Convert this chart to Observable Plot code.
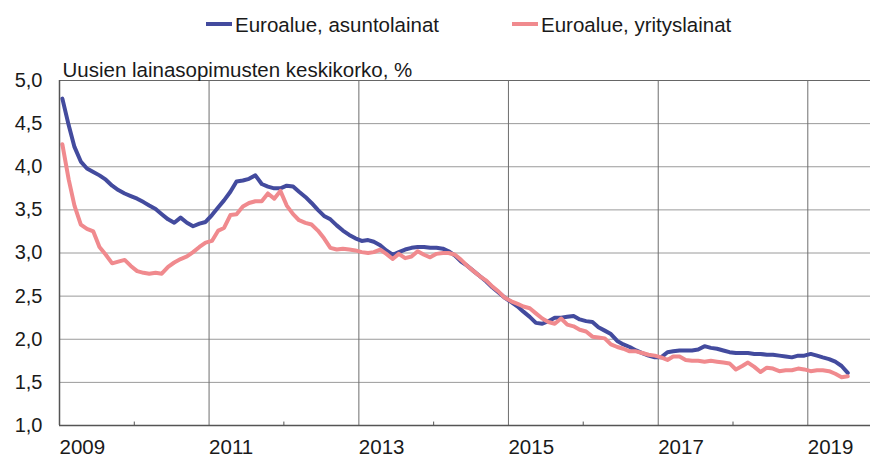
<!DOCTYPE html>
<html>
<head>
<meta charset="utf-8">
<script src="https://cdn.jsdelivr.net/npm/d3@7"></script>
<script src="https://cdn.jsdelivr.net/npm/@observablehq/plot@0.6"></script>
<style>
  body { margin: 0; background: #fff; font-family: "Liberation Sans", Arial, sans-serif; }
  #wrap { position: relative; width: 870px; height: 459px; }
  #legend { position: relative; height: 50px; }
  .item { position: absolute; top: 15px; font-size: 20.5px; line-height: 20px; color: #1a1a1a; white-space: nowrap; }
  .swatch { position: absolute; top: 22px; height: 4px; width: 26px; }
  #chart { position: absolute; top: 50px; left: 0; }
</style>
</head>
<body>
<div id="wrap">
  <div id="legend"></div>
  <div id="chart"></div>
</div>
<script>
// Series: monthly, Jan 2009 – Jul 2019 (%)
const startYear = 2009;
const seriesNames = ["Euroalue, asuntolainat", "Euroalue, yrityslainat"];
const seriesColors = ["#434b9e", "#f08a8e"];
const asuntolainat = [
  4.79,4.48,4.23,4.06,3.98,3.94,3.90,3.85,3.78,3.73,3.69,3.66,
  3.63,3.59,3.55,3.51,3.45,3.39,3.35,3.41,3.35,3.31,3.34,3.36,
  3.44,3.53,3.61,3.71,3.83,3.84,3.86,3.90,3.80,3.77,3.75,3.75,
  3.78,3.77,3.71,3.65,3.58,3.50,3.43,3.39,3.32,3.26,3.21,3.17,
  3.14,3.15,3.13,3.09,3.03,2.98,3.01,3.04,3.06,3.07,3.07,3.06,
  3.06,3.05,3.02,2.97,2.90,2.85,2.79,2.73,2.67,2.60,2.54,2.48,
  2.43,2.38,2.32,2.26,2.19,2.18,2.21,2.25,2.25,2.26,2.27,2.23,
  2.21,2.20,2.14,2.10,2.06,1.98,1.94,1.91,1.87,1.84,1.81,1.79,
  1.79,1.85,1.86,1.87,1.87,1.87,1.88,1.92,1.90,1.89,1.87,1.85,
  1.84,1.84,1.84,1.83,1.83,1.82,1.82,1.81,1.80,1.79,1.81,1.81,
  1.83,1.81,1.79,1.77,1.74,1.69,1.61
];
const yrityslainat = [
  4.26,3.85,3.55,3.33,3.28,3.25,3.07,2.98,2.88,2.90,2.92,2.85,
  2.79,2.77,2.76,2.77,2.76,2.84,2.89,2.93,2.96,3.01,3.07,3.12,
  3.14,3.26,3.29,3.44,3.45,3.54,3.58,3.60,3.60,3.69,3.63,3.72,
  3.55,3.45,3.38,3.35,3.33,3.26,3.17,3.06,3.04,3.05,3.04,3.03,
  3.01,3.00,3.01,3.04,2.99,2.93,2.99,2.94,2.96,3.02,2.98,2.95,
  2.99,3.00,3.00,2.98,2.92,2.85,2.79,2.73,2.68,2.61,2.55,2.48,
  2.44,2.41,2.38,2.36,2.30,2.24,2.20,2.18,2.24,2.17,2.15,2.11,
  2.09,2.03,2.02,2.01,1.94,1.91,1.89,1.86,1.86,1.84,1.82,1.81,
  1.79,1.76,1.80,1.80,1.76,1.75,1.75,1.74,1.75,1.74,1.73,1.72,
  1.65,1.69,1.73,1.68,1.62,1.67,1.66,1.63,1.64,1.64,1.66,1.65,
  1.63,1.64,1.64,1.63,1.60,1.56,1.57
];
const yTicks = [1.0, 1.5, 2.0, 2.5, 3.0, 3.5, 4.0, 4.5, 5.0];
const yearLabels = [2009, 2011, 2013, 2015, 2017, 2019];
const minorYears = [2010, 2012, 2014, 2016, 2018];
const yTitle = "Uusien lainasopimusten keskikorko, %";

const monthDate = k => new Date(Date.UTC(startYear, k, 15));
const toRows = (vals, name) => vals.map((v, k) => ({date: monthDate(k), value: v, series: name}));
const rowsA = toRows(asuntolainat, seriesNames[0]);
const rowsY = toRows(yrityslainat, seriesNames[1]);
const yearDate = y => new Date(Date.UTC(y, 0, 1));

// legend
const legend = document.getElementById("legend");
const legendPos = [{line: 206, text: 235}, {line: 512, text: 541}];
seriesNames.forEach((name, i) => {
  const sw = document.createElement("div");
  sw.className = "swatch";
  sw.style.left = legendPos[i].line + "px";
  sw.style.background = seriesColors[i];
  legend.appendChild(sw);
  const t = document.createElement("div");
  t.className = "item";
  t.style.left = legendPos[i].text + "px";
  t.textContent = name;
  legend.appendChild(t);
});

const fmt = d => d.toFixed(1).replace(".", ",");

const chart = Plot.plot({
  width: 870,
  height: 409,
  marginTop: 30,
  marginBottom: 34,
  marginLeft: 59,
  marginRight: 0,
  style: {fontSize: "20.5px", fontFamily: "'Liberation Sans', Arial, sans-serif", color: "#1a1a1a", background: "#fff", overflow: "visible"},
  x: {type: "utc", domain: [yearDate(2009), new Date(Date.UTC(2019, 10, 3))]},
  y: {domain: [1, 5]},
  marks: [
    Plot.ruleY(yTicks.filter(d => d > 1 && d < 5), {stroke: "#9a9a9a", strokeWidth: 1}),
    Plot.ruleY([5], {stroke: "#666", strokeWidth: 1.2}),
    Plot.ruleX(yearLabels.slice(1).map(yearDate), {stroke: "#6e6e6e", strokeWidth: 1}),
    Plot.ruleX(minorYears.map(yearDate), {y1: 1, y2: 1.04, stroke: "#555"}),
    Plot.axisY({ticks: yTicks, tickFormat: fmt, tickSize: 0, tickPadding: 17, label: null, fontSize: 20}),
    Plot.axisX({ticks: yearLabels.map(yearDate), tickFormat: d => String(d.getUTCFullYear()), tickSize: 0, tickPadding: 14, textAnchor: "start", label: null, fontSize: 20.5}),
    Plot.line(rowsA, {x: "date", y: "value", stroke: seriesColors[0], strokeWidth: 4, strokeLinejoin: "round"}),
    Plot.line(rowsY, {x: "date", y: "value", stroke: seriesColors[1], strokeWidth: 4, strokeLinejoin: "round"}),
    Plot.ruleX([yearDate(2009)], {stroke: "#555", strokeWidth: 1.5}),
    Plot.ruleY([1], {stroke: "#555", strokeWidth: 1.5}),
    Plot.text([yTitle], {frameAnchor: "top-left", textAnchor: "start", lineAnchor: "bottom", dx: 3, dy: -4, fontSize: 20.5, fill: "#1a1a1a"})
  ]
});
document.getElementById("chart").appendChild(chart);
</script>
</body>
</html>
